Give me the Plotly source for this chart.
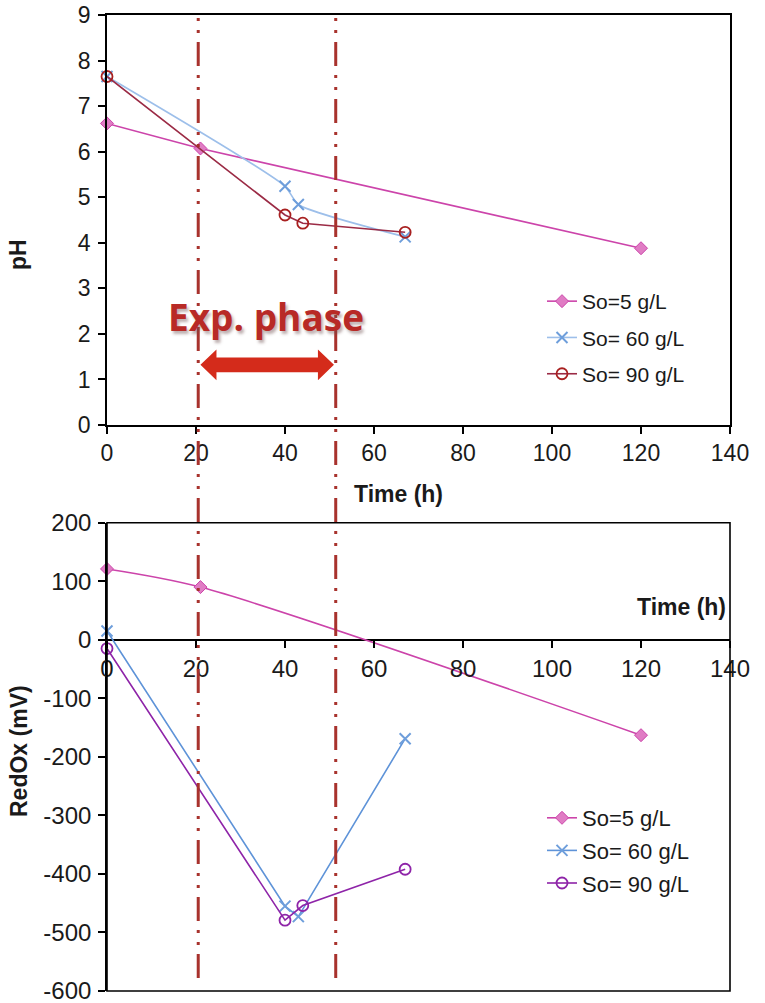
import plotly.graph_objects as go

# ---- data ----
series_names = ["So=5 g/L", "So= 60 g/L", "So= 90 g/L"]

ph_t5 = [0, 21, 120]
ph_v5 = [6.62, 6.07, 3.88]
ph_t60 = [0, 40, 43, 67]
ph_v60 = [7.65, 5.24, 4.84, 4.13]
ph_t90 = [0, 40, 44, 67]
ph_v90 = [7.65, 4.61, 4.43, 4.23]

rx_t5 = [0, 21, 120]
rx_v5 = [121, 90, -163]
rx_t60 = [0, 40, 43, 67]
rx_v60 = [15, -455, -473, -169]
rx_t90 = [0, 40, 44, 67]
rx_v90 = [-15, -479, -454, -392]

phase_bounds = [20.5, 51.4]   # exponential phase limits (h)
x_ticks = [0, 20, 40, 60, 80, 100, 120, 140]
ph_ticks = [0, 1, 2, 3, 4, 5, 6, 7, 8, 9]
rx_ticks = [200, 100, 0, -100, -200, -300, -400, -500, -600]
rx_tick_text = ["200", "100", "0", "-100", "-200", "-300", "-400", "-500", "-600"]

FONT = "Liberation Sans, Arial, sans-serif"
PINK_L, PINK_M = "#CC44AA", "#E07CC4"
BLUE1_L, BLUE1_M = "#9DBFEA", "#6E9EDB"
RED_L, RED_M = "#9B2B45", "#A82020"
BLUE2 = "#5E93D8"
PURP = "#8E24A8"
VLINE = "#A8322D"

fig = go.Figure()

# top: pH
fig.add_trace(go.Scatter(x=ph_t5, y=ph_v5, name=series_names[0], mode="lines+markers",
    line=dict(color=PINK_L, width=1.6),
    marker=dict(symbol="diamond", size=10, color=PINK_M, line=dict(color=PINK_L, width=1)),
    xaxis="x", yaxis="y", legend="legend", legendgroup="a", cliponaxis=False))
fig.add_trace(go.Scatter(x=ph_t60, y=ph_v60, name=series_names[1], mode="lines+markers",
    line=dict(color=BLUE1_L, width=1.6, shape="spline", smoothing=0.6),
    marker=dict(symbol="x-thin", size=11, color=BLUE1_M, line=dict(color=BLUE1_M, width=2)),
    xaxis="x", yaxis="y", legend="legend", legendgroup="b", cliponaxis=False))
fig.add_trace(go.Scatter(x=ph_t90, y=ph_v90, name=series_names[2], mode="lines+markers",
    line=dict(color=RED_L, width=1.6),
    marker=dict(symbol="circle-open", size=11, color=RED_M, line=dict(color=RED_M, width=1.8)),
    xaxis="x", yaxis="y", legend="legend", legendgroup="c", cliponaxis=False))

# bottom: RedOx
fig.add_trace(go.Scatter(x=rx_t5, y=rx_v5, name=series_names[0], mode="lines+markers",
    line=dict(color=PINK_L, width=1.6, shape="spline", smoothing=0.8),
    marker=dict(symbol="diamond", size=10, color=PINK_M, line=dict(color=PINK_L, width=1)),
    xaxis="x2", yaxis="y2", legend="legend2", legendgroup="d", cliponaxis=False))
fig.add_trace(go.Scatter(x=rx_t60, y=rx_v60, name=series_names[1], mode="lines+markers",
    line=dict(color=BLUE2, width=1.6),
    marker=dict(symbol="x-thin", size=11, color=BLUE2, line=dict(color=BLUE1_M, width=2)),
    xaxis="x2", yaxis="y2", legend="legend2", legendgroup="e", cliponaxis=False))
fig.add_trace(go.Scatter(x=rx_t90, y=rx_v90, name=series_names[2], mode="lines+markers",
    line=dict(color=PURP, width=1.6),
    marker=dict(symbol="circle-open", size=11, color=PURP, line=dict(color=PURP, width=1.8)),
    xaxis="x2", yaxis="y2", legend="legend2", legendgroup="f", cliponaxis=False))

T, B, L, R = 15, 12, 107, 35
H, W = 1003, 765
ph_ = H - T - B
def py(p):
    return (H - B - p) / ph_
def px(p):
    return (p - L) / (W - L - R)

axis_common = dict(showline=True, linecolor="black", linewidth=1.6, ticks="outside",
                   tickcolor="black", tickwidth=1.6, ticklen=7, showgrid=False,
                   zeroline=False, ticklabeloverflow="allow",
                   tickfont=dict(family=FONT, size=23, color="#1a1a1a"))

shapes = []
for xb in phase_bounds:
    shapes.append(dict(type="line", xref="x", yref="paper", x0=xb, x1=xb,
                       y0=py(978), y1=py(12),
                       line=dict(color=VLINE, width=3, dash="24px,9px,3px,9px,3px,9px")))
# bottom frame
shapes.append(dict(type="rect", xref="x2 domain", yref="y2 domain", x0=0, x1=1, y0=0, y1=1,
                   line=dict(color="black", width=1.6)))
# double arrow for exponential phase
a0, a1 = 21.0, 51.0
ym, hh, bh, hl = 1.32, 0.34, 0.16, 3.6
path = (f"M {a0},{ym} L {a0+hl},{ym+hh} L {a0+hl},{ym+bh} L {a1-hl},{ym+bh} "
        f"L {a1-hl},{ym+hh} L {a1},{ym} L {a1-hl},{ym-hh} L {a1-hl},{ym-bh} "
        f"L {a0+hl},{ym-bh} L {a0+hl},{ym-hh} Z")
shapes.append(dict(type="path", xref="x", yref="y", path=path,
                   fillcolor="#D42B1B", line=dict(width=0)))

title_font = dict(family=FONT, size=23, color="#1a1a1a")
annotations = [
    dict(text="<b>Time (h)</b>", xref="paper", yref="paper", x=px(398), y=py(494),
         showarrow=False, font=title_font, xanchor="center", yanchor="middle"),
    dict(text="<b>Time (h)</b>", xref="paper", yref="paper", x=px(728), y=py(607),
         showarrow=False, font=title_font, xanchor="right", yanchor="middle"),
    dict(text="<b>pH</b>", xref="paper", yref="paper", x=px(18), y=py(255),
         showarrow=False, font=title_font, textangle=-90, xanchor="center", yanchor="middle"),
    dict(text="<b>RedOx (mV)</b>", xref="paper", yref="paper", x=px(19), y=py(751),
         showarrow=False, font=title_font, textangle=-90, xanchor="center", yanchor="middle"),
    dict(text="<b>Exp. phase</b>", xref="x", yref="y", x=35.8, y=2.38, showarrow=False,
         font=dict(family="Open Sans, sans-serif", size=37, color="#B82A26",
                   shadow="2px 3px 3px rgba(110,80,80,0.45)"),
         xanchor="center", yanchor="middle"),
]

fig.update_layout(
    width=W, height=H, margin=dict(l=L, r=R, t=T, b=B, autoexpand=False),
    paper_bgcolor="white", plot_bgcolor="white",
    xaxis=dict(axis_common, domain=[0, 1], range=[0, 140], tickvals=x_ticks, anchor="y",
               mirror=True),
    yaxis=dict(axis_common, domain=[py(425), 1], range=[0, 9], tickvals=ph_ticks, anchor="x",
               mirror=True, ticklabelstandoff=3),
    xaxis2=dict(axis_common, domain=[0, 1], range=[0, 140], tickvals=x_ticks, anchor="free",
                position=py(640), showline=False,
                tickfont=dict(family=FONT, size=24, color="#1a1a1a")),
    yaxis2=dict(axis_common, domain=[0, py(522.7)], range=[-600, 200], tickvals=rx_ticks,
                ticktext=rx_tick_text, anchor="x2", ticklabelstandoff=2,
                zeroline=True, zerolinecolor="black", zerolinewidth=1.8,
                tickfont=dict(family=FONT, size=24, color="#1a1a1a")),
    legend=dict(x=px(542), y=py(281), xanchor="left", yanchor="top",
                font=dict(family=FONT, size=21, color="#1a1a1a"), tracegroupgap=6,
                bgcolor="rgba(0,0,0,0)"),
    legend2=dict(x=px(542), y=py(797), xanchor="left", yanchor="top",
                 font=dict(family=FONT, size=22, color="#1a1a1a"), tracegroupgap=1,
                 bgcolor="rgba(0,0,0,0)"),
    shapes=shapes, annotations=annotations, showlegend=True,
)

fig.write_html("out.html", config={"displayModeBar": False},
               post_script="document.body.style.margin='0';")
